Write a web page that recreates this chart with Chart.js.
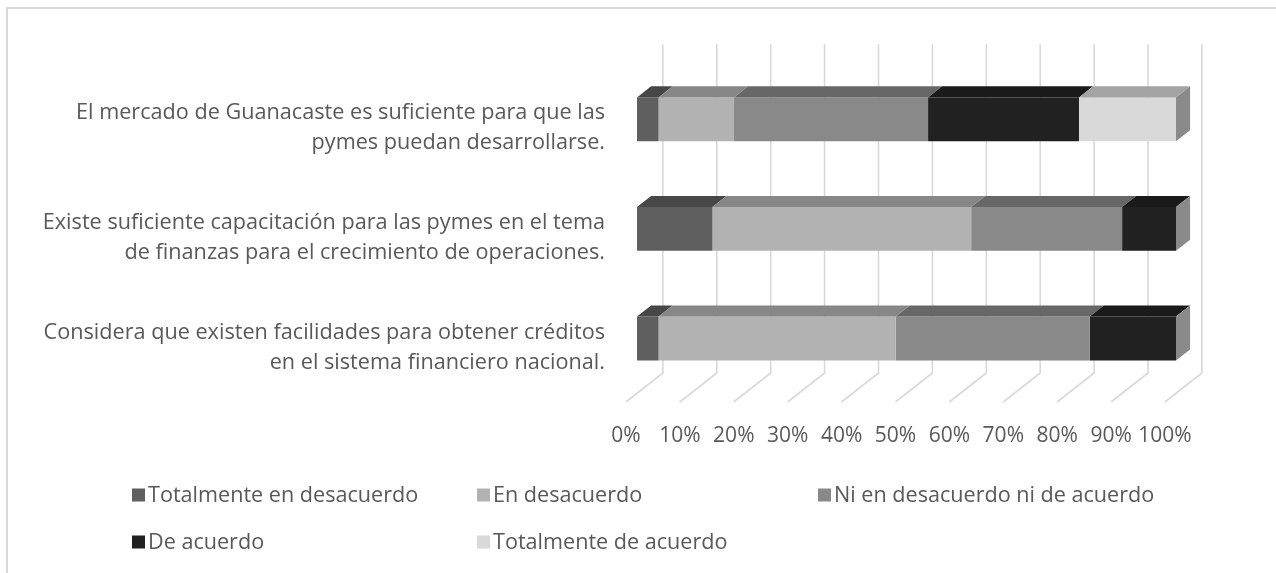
<!DOCTYPE html>
<html>
<head>
<meta charset="utf-8">
<script src="https://cdn.jsdelivr.net/npm/chart.js@4.4.1/dist/chart.umd.min.js"></script>
<style>
  html, body { margin: 0; padding: 0; background: #ffffff; }
  canvas { display: block; }
</style>
</head>
<body>
<canvas id="chart" width="1276" height="573"></canvas>
<script>
// ---------- data ----------
const categories = [
  ["El mercado de Guanacaste es suficiente para que las", "pymes puedan desarrollarse."],
  ["Existe suficiente capacitación para las pymes en el tema", "de finanzas para el crecimiento de operaciones."],
  ["Considera que existen facilidades para obtener créditos", "en el sistema financiero nacional."]
];
const seriesNames = [
  "Totalmente en desacuerdo",
  "En desacuerdo",
  "Ni en desacuerdo ni de acuerdo",
  "De acuerdo",
  "Totalmente de acuerdo"
];
const totalmenteEnDesacuerdo = [4, 14, 4];
const enDesacuerdo = [14, 48, 44];
const niEnDesacuerdoNiDeAcuerdo = [36, 28, 36];
const deAcuerdo = [28, 10, 16];
const totalmenteDeAcuerdo = [18, 0, 0];
const xTickValues = [0, 10, 20, 30, 40, 50, 60, 70, 80, 90, 100];

// ---------- styles ----------
const FONT = "'Open Sans', Lato, sans-serif";
const TEXT_COLOR = "#595959";
const frontColors = ["#5f5f5f", "#b2b2b2", "#898989", "#212121", "#d9d9d9"];
const topColors   = ["#474747", "#878787", "#676767", "#1a1a1a", "#a4a4a4"];
const sideColor   = "#8a8a8a";
const GRID_COLOR  = "#d9d9d9";
const DEPTH = { x: 37, y: -29 };    // full floor depth vector
const PLANE_POS = 0.30;             // bar front plane position in depth
const BAR_DEPTH = 0.38;             // bar depth fraction

const seriesValues = [totalmenteEnDesacuerdo, enDesacuerdo, niEnDesacuerdoNiDeAcuerdo, deAcuerdo, totalmenteDeAcuerdo];

const threeD = {
  id: "threeD",
  beforeDraw(chart) {
    const ctx = chart.ctx;
    ctx.save();
    ctx.strokeStyle = "#d9d9d9";
    ctx.lineWidth = 2;
    ctx.beginPath();
    ctx.moveTo(7, chart.height + 5);
    ctx.lineTo(7, 8);
    ctx.lineTo(chart.width + 5, 8);
    ctx.stroke();
    ctx.restore();
  },
  beforeDatasetsDraw(chart) {
    const ctx = chart.ctx;
    const xs = chart.scales.x;
    const area = chart.chartArea;
    const wx = DEPTH.x * (1 - PLANE_POS), wy = DEPTH.y * (1 - PLANE_POS);
    const fx = -DEPTH.x * PLANE_POS, fy = -DEPTH.y * PLANE_POS;
    ctx.save();
    ctx.strokeStyle = GRID_COLOR;
    ctx.lineWidth = 1.6;
    xs.ticks.forEach(t => {
      const px = xs.getPixelForValue(t.value);
      ctx.beginPath();
      ctx.moveTo(px + wx, area.top + wy);
      ctx.lineTo(px + wx, area.bottom + wy);
      ctx.lineTo(px + fx, area.bottom + fy);
      ctx.stroke();
    });
    ctx.restore();
  },
  afterDatasetsDraw(chart) {
    const ctx = chart.ctx;
    const dx = DEPTH.x * BAR_DEPTH, dy = DEPTH.y * BAR_DEPTH;
    ctx.save();
    const n = chart.data.datasets.length;
    chart.data.datasets.forEach((ds, di) => {
      const meta = chart.getDatasetMeta(di);
      meta.data.forEach(el => {
        const p = el.getProps(["x", "base", "y", "height"], true);
        const x0 = Math.min(p.x, p.base), x1 = Math.max(p.x, p.base);
        const top = p.y - p.height / 2, bottom = p.y + p.height / 2;
        if (x1 - x0 > 0.01) {
          ctx.fillStyle = topColors[di];
          ctx.beginPath();
          ctx.moveTo(x0, top);
          ctx.lineTo(x1, top);
          ctx.lineTo(x1 + dx, top + dy);
          ctx.lineTo(x0 + dx, top + dy);
          ctx.closePath();
          ctx.fill();
        }
        if (di === n - 1) {
          ctx.fillStyle = sideColor;
          ctx.beginPath();
          ctx.moveTo(x1, top);
          ctx.lineTo(x1 + dx, top + dy);
          ctx.lineTo(x1 + dx, bottom + dy);
          ctx.lineTo(x1, bottom);
          ctx.closePath();
          ctx.fill();
        }
      });
    });
    ctx.restore();
  },
  afterDraw(chart) {
    // legend in three columns, like the original
    const ctx = chart.ctx;
    const cols = [132, 477, 818];
    const rows = [495, 542];
    ctx.save();
    ctx.font = "21.6px " + FONT;
    ctx.textBaseline = "middle";
    ctx.textAlign = "left";
    chart.data.datasets.forEach((ds, i) => {
      const x = cols[i % 3], y = rows[Math.floor(i / 3)];
      ctx.fillStyle = ds.backgroundColor;
      ctx.fillRect(x, y - 6.5, 13, 13);
      ctx.fillStyle = TEXT_COLOR;
      ctx.fillText(ds.label, x + 16, y + 1);
    });
    ctx.restore();
  }
};

new Chart(document.getElementById("chart"), {
  type: "bar",
  data: {
    labels: categories,
    datasets: seriesNames.map((name, i) => ({
      label: name,
      data: seriesValues[i],
      backgroundColor: frontColors[i],
      borderWidth: 0,
      barPercentage: 0.4,
      categoryPercentage: 1.0
    }))
  },
  options: {
    indexAxis: "y",
    responsive: false,
    animation: false,
    layout: { padding: { left: 0, top: 64.5, right: 100, bottom: 94.5 } },
    plugins: {
      legend: { display: false },
      tooltip: { enabled: false }
    },
    scales: {
      x: {
        stacked: true,
        min: 0,
        max: 100,
        afterBuildTicks(scale) { scale.ticks = xTickValues.map(v => ({ value: v })); },
        grid: { display: false, drawTicks: false },
        border: { display: false },
        ticks: {
          callback: v => v + "%",
          font: { family: FONT, size: 21 },
          color: TEXT_COLOR,
          labelOffset: -11,
          padding: 30,
          maxRotation: 0,
          autoSkip: false
        }
      },
      y: {
        stacked: true,
        afterFit(scale) { scale.width = 637; },
        grid: { display: false, drawTicks: false },
        border: { display: false },
        ticks: {
          font: { family: FONT, size: 21.65, lineHeight: 30 / 21.65 },
          color: TEXT_COLOR,
          padding: 32,
          labelOffset: 9,
          autoSkip: false
        }
      }
    }
  },
  plugins: [threeD]
});
</script>
</body>
</html>
